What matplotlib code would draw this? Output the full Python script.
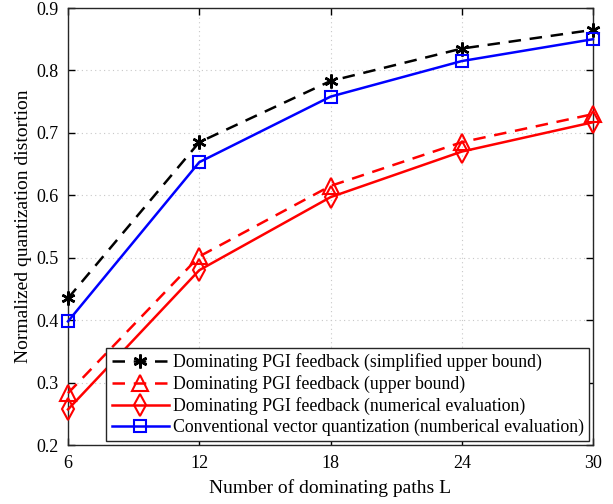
import numpy as np
import matplotlib.pyplot as plt

plt.rcParams['font.family'] = ['Liberation Serif', 'DejaVu Serif']
plt.rcParams['mathtext.fontset'] = 'stix'

paths_L = [6, 12, 18, 24, 30]
simplified_ub = [0.435, 0.685, 0.783, 0.835, 0.865]
upper_bound = [0.283, 0.502, 0.615, 0.685, 0.730]
numerical = [0.257, 0.480, 0.597, 0.670, 0.717]
conventional = [0.398, 0.653, 0.758, 0.815, 0.850]

labels = [
  "Dominating PGI feedback (simplified upper bound)",
  "Dominating PGI feedback (upper bound)",
  "Dominating PGI feedback (numerical evaluation)",
  "Conventional vector quantization (numberical evaluation)",
]

fig = plt.figure(figsize=(6.13, 5.04), dpi=100)
ax = fig.add_axes([68/613, 1 - 445/504, (593-68)/613, (445-8)/504])

ax.plot(paths_L, simplified_ub, color='black', ls=(0, (5, 3.5)), lw=1.8,
        marker=(6, 2, 0), ms=10, mew=1.8, label=labels[0], clip_on=False, zorder=4)
ax.plot(paths_L, upper_bound, color='red', ls=(0, (5, 3.5)), lw=1.8,
        marker='^', ms=11, mfc='none', mew=1.5, label=labels[1], clip_on=False, zorder=4)
ax.plot(paths_L, numerical, color='red', ls='-', lw=1.8,
        marker='d', ms=11, mfc='none', mew=1.5, label=labels[2], clip_on=False, zorder=4)
ax.plot(paths_L, conventional, color='blue', ls='-', lw=1.8,
        marker='s', ms=9, mfc='none', mew=1.5, label=labels[3], clip_on=False, zorder=4)

ax.set_xlim(6, 30)
ax.set_ylim(0.2, 0.9)
ax.set_xticks(paths_L)
ax.set_yticks(np.arange(0.2, 0.91, 0.1))
ax.set_yticklabels([f"{v:.1f}" for v in np.arange(0.2, 0.91, 0.1)])
ax.grid(True, ls=(0, (1, 3)), color='#c8c8c8', lw=0.8)
ax.tick_params(direction='in', top=True, right=True, labelsize=13, length=5, width=1, pad=7)
for sp in ax.spines.values():
  sp.set_linewidth(1.0)
  sp.set_color('#262626')

ax.set_xlabel("Number of dominating paths L", fontsize=14, labelpad=5)
ax.set_ylabel("Normalized quantization distortion", fontsize=14, labelpad=3)

leg = ax.legend(loc='lower right', fontsize=12.8, frameon=True, fancybox=False,
                edgecolor='#262626', framealpha=1, borderpad=0.3,
                handlelength=3.2, handletextpad=0.25, labelspacing=0.22,
                borderaxespad=0.2)
leg.get_frame().set_linewidth(1.0)
leg.set_zorder(5)

fig.savefig("out.png", dpi=100)
